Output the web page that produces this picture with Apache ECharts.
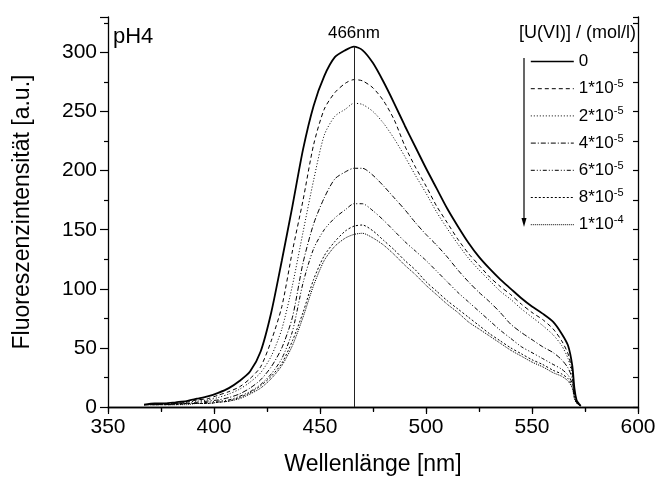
<!DOCTYPE html>
<html>
<head>
<meta charset="utf-8">
<script src="https://cdn.jsdelivr.net/npm/echarts@6/dist/echarts.min.js"></script>
<style>
  html, body { margin: 0; padding: 0; background: #fff; }
  #main { width: 659px; height: 481px; }
</style>
</head>
<body>
<div id="main"></div>
<script>
var wavelengths = [367, 372, 377, 382, 387, 392, 397, 402, 407, 412, 417, 422, 427, 432, 437, 442, 447, 452, 457, 462,
                   466, 470, 475, 480, 485, 490, 495, 500, 505, 510, 515, 520, 525, 530, 535, 540, 545, 550, 555, 560,
                   564, 567, 569, 570, 571, 572, 573];

// Fluoreszenzintensitaet je U(VI)-Konzentration
var int0    = [2, 3, 3, 4, 5, 7, 9, 12, 16, 22, 30, 47, 80, 124, 170, 218, 255, 280, 296, 302,
               305, 302, 291, 275, 257, 238, 220, 202, 185, 168, 153, 139, 127, 117, 108, 100, 92, 85, 79, 72,
               62, 52, 35, 16, 6, 3, 1];
var int1e5  = [2, 2, 3, 3, 4, 6, 7, 10, 13, 17, 24, 34, 56, 85, 132, 175, 222, 252, 266, 274,
               277, 276, 270, 259, 243, 221, 203, 187, 170, 156, 142, 130, 120, 110, 102, 95, 87, 80, 74, 66,
               56, 45, 30, 14, 5, 2, 1];
var int2e5  = [2, 2, 3, 3, 4, 5, 6, 8, 11, 15, 21, 29, 43, 66, 103, 148, 192, 230, 246, 252,
               257, 256, 250, 240, 227, 212, 196, 181, 165, 151, 138, 126, 116, 107, 98, 91, 83, 76, 69, 61,
               52, 41, 27, 12, 5, 2, 1];
var int4e5  = [2, 2, 2, 3, 3, 4, 5, 6, 8, 11, 16, 23, 34, 50, 76, 122, 155, 177, 193, 199,
               202, 202, 196, 187, 177, 167, 156, 146, 137, 127, 116, 106, 97, 89, 80, 70, 63, 57, 51, 46,
               40, 33, 24, 11, 5, 2, 1];
var int6e5  = [2, 2, 2, 2, 3, 3, 4, 5, 6, 9, 13, 19, 28, 41, 64, 105, 134, 150, 160, 167,
               172, 172, 166, 158, 149, 140, 132, 124, 115, 106, 97, 89, 81, 73, 65, 58, 51, 46, 41, 36,
               32, 27, 20, 9, 4, 2, 1];
var int8e5  = [2, 2, 2, 2, 3, 3, 3, 4, 5, 8, 12, 18, 26, 37, 56, 80, 108, 128, 140, 149,
               153, 154, 149, 141, 133, 124, 116, 106, 98, 90, 83, 76, 69, 62, 56, 50, 45, 40, 36, 31,
               28, 24, 18, 8, 4, 2, 1];
var int1e4  = [2, 2, 2, 2, 2, 3, 3, 4, 5, 7, 11, 16, 24, 35, 52, 76, 103, 124, 136, 143,
               146, 147, 143, 137, 129, 120, 112, 103, 95, 87, 80, 72, 66, 60, 54, 48, 43, 38, 34, 29,
               26, 22, 16, 7, 3, 2, 1];

var seriesNames = ['0', '1*10-5', '2*10-5', '4*10-5', '6*10-5', '8*10-5', '1*10-4'];
var legendBase  = ['0', '1*10', '2*10', '4*10', '6*10', '8*10', '1*10'];
var legendExp   = ['', '-5', '-5', '-5', '-5', '-5', '-4'];
var intensities = [int0, int1e5, int2e5, int4e5, int6e5, int8e5, int1e4];

var xTicks = [350, 600, 50];
var yTicks = [0, 330, 50];
var peakWl = 466;
var peakTop = 305;

// Linienstile wie im Original (alle schwarz)
var dashes = ['solid', [4, 3], [1, 2], [5, 2, 1, 2], [4, 2, 1, 2, 1, 2], [2, 2], [1, 1]];
var widths = [1.8, 1, 1, 1, 1, 1, 1];

var font = 'Liberation Sans, Arial, sans-serif';

var myChart = echarts.init(document.getElementById('main'));

var series = [];
var legendData = [];
for (var i = 0; i < intensities.length; i++) {
    var arr = intensities[i];
    var s = {
        name: seriesNames[i],
        type: 'line',
        showSymbol: false,
        symbol: 'none',
        smooth: 0.25,
        silent: true,
        data: wavelengths.map(function (w, k) { return [w, arr[k]]; }),
        lineStyle: { color: '#000', width: widths[i], type: dashes[i] },
        itemStyle: { color: '#000' }
    };
    if (i === 0) {
        s.markLine = {
            silent: true,
            symbol: 'none',
            animation: false,
            lineStyle: { color: '#222', width: 1, type: 'solid' },
            label: {
                show: true,
                position: 'end',
                formatter: peakWl + 'nm',
                fontFamily: font,
                fontSize: 17,
                color: '#000',
                distance: 5
            },
            data: [[{ coord: [peakWl, 0] }, { coord: [peakWl, peakTop] }]]
        };
    }
    series.push(s);
    legendData.push({
        name: seriesNames[i],
        itemStyle: { opacity: 0 },
        lineStyle: { color: '#000', width: widths[i] === 1 ? 1 : 1.6, type: dashes[i], opacity: 1 }
    });
}

var axisLine = { lineStyle: { color: '#000', width: 1.3 } };
var tickStyle = { color: '#000', width: 1.2 };

var option = {
    animation: false,
    backgroundColor: '#fff',
    grid: { left: 108, right: 21, top: 17, bottom: 74 },
    xAxis: [
        {
            type: 'value', min: xTicks[0], max: xTicks[1], interval: xTicks[2],
            position: 'bottom',
            name: 'Wellenlänge [nm]', nameLocation: 'middle', nameGap: 46,
            nameTextStyle: { fontFamily: font, fontSize: 23, color: '#000' },
            axisLine: axisLine, splitLine: { show: false },
            axisTick: { inside: false, length: 7, lineStyle: tickStyle },
            minorTick: { show: true, splitNumber: 2, length: 4, lineStyle: tickStyle },
            axisLabel: { fontFamily: font, fontSize: 21, color: '#000', margin: 10 }
        },
        {
            type: 'value', min: xTicks[0], max: xTicks[1], interval: xTicks[2],
            position: 'top',
            axisLine: axisLine, splitLine: { show: false },
            axisTick: { inside: true, length: 5, lineStyle: tickStyle },
            minorTick: { show: true, splitNumber: 2, length: 5, lineStyle: tickStyle },
            axisLabel: { show: false }
        }
    ],
    yAxis: [
        {
            type: 'value', min: yTicks[0], max: yTicks[1], interval: yTicks[2],
            position: 'left',
            name: 'Fluoreszenzintensität [a.u.]', nameLocation: 'middle', nameGap: 74,
            nameTextStyle: { fontFamily: font, fontSize: 23, color: '#000' },
            axisLine: axisLine, splitLine: { show: false },
            axisTick: { inside: false, length: 8, lineStyle: tickStyle },
            minorTick: { show: true, splitNumber: 2, length: 4, lineStyle: tickStyle },
            axisLabel: { fontFamily: font, fontSize: 21, color: '#000', margin: 11, showMaxLabel: false }
        },
        {
            type: 'value', min: yTicks[0], max: yTicks[1], interval: yTicks[2],
            position: 'right',
            axisLine: axisLine, splitLine: { show: false },
            axisTick: { inside: true, length: 5, lineStyle: tickStyle },
            minorTick: { show: true, splitNumber: 2, length: 5, lineStyle: tickStyle },
            axisLabel: { show: false }
        }
    ],
    legend: {
        data: legendData,
        orient: 'vertical',
        left: 530,
        top: 53,
        padding: 0,
        itemWidth: 43,
        itemHeight: 20,
        itemGap: 8.7,
        selectedMode: false,
        formatter: function (name) {
            var k = seriesNames.indexOf(name);
            if (legendExp[k]) {
                return '{b|' + legendBase[k] + '}{s|' + legendExp[k] + '}';
            }
            return '{b|' + legendBase[k] + '}';
        },
        textStyle: {
            color: '#000',
            rich: {
                b: { fontFamily: font, fontSize: 17, color: '#000', lineHeight: 20 },
                s: { fontFamily: font, fontSize: 11, color: '#000', lineHeight: 20, verticalAlign: 'top' }
            }
        }
    },
    graphic: [
        {
            type: 'text', left: 113, top: 26,
            style: { text: 'pH4', fontFamily: font, fontSize: 22, fill: '#000' }
        },
        {
            type: 'text', right: 23, top: 24,
            style: { text: '[U(VI)] / (mol/l)', fontFamily: font, fontSize: 18, fill: '#000' }
        },
        {
            type: 'line',
            shape: { x1: 524, y1: 58, x2: 524, y2: 221 },
            style: { stroke: '#000', lineWidth: 1.2 }
        },
        {
            type: 'polygon',
            shape: { points: [[521.5, 218], [526.5, 218], [524, 227]] },
            style: { fill: '#000' }
        }
    ],
    series: series
};

myChart.setOption(option);
</script>
</body>
</html>
